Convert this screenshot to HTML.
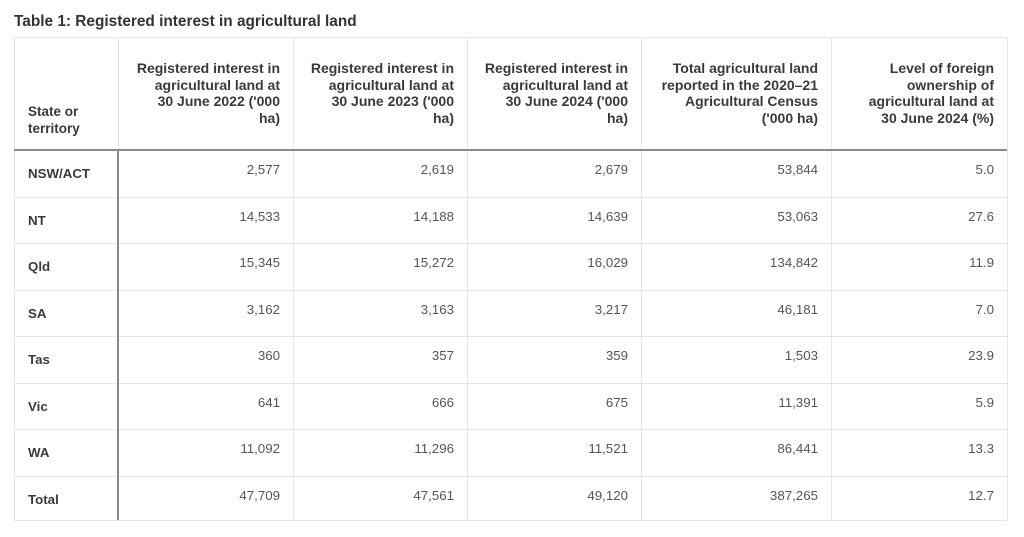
<!DOCTYPE html>
<html><head><meta charset="utf-8"><style>
body{margin:0;width:1024px;height:537px;background:#fff;font-family:"Liberation Sans",sans-serif;position:relative;overflow:hidden}
#title{position:absolute;left:14px;top:13px;font-size:15.4px;font-weight:bold;color:#333}
.cell{position:absolute;box-sizing:border-box;font-size:13.3px;color:#555}
.h{font-weight:bold;color:#3a3a3a;text-align:right;line-height:16.5px;padding-right:13px;font-size:14px}
.num{text-align:right;padding-right:13px}
.lab{font-weight:bold;color:#3a3a3a;padding-left:14px}
.vl{position:absolute;width:1px;background:#e6e6e6}
.hl{position:absolute;height:1px;background:#e6e6e6}
</style></head><body>
<div id="title">Table 1: Registered interest in agricultural land</div>
<div id="t"></div>
<script>
const cols=[14,118,293,467,641,831,1007];
const rowTops=[150,197,243,290,336,383,429,476,520];
const headers=[["Registered interest in","agricultural land at","30 June 2022 ('000","ha)"],["Registered interest in","agricultural land at","30 June 2023 ('000","ha)"],["Registered interest in","agricultural land at","30 June 2024 ('000","ha)"],["Total agricultural land","reported in the 2020–21","Agricultural Census","('000 ha)"],["Level of foreign","ownership of","agricultural land at","30 June 2024 (%)"]];
const states=["NSW/ACT","NT","Qld","SA","Tas","Vic","WA","Total"];
const v2022=["2,577","14,533","15,345","3,162","360","641","11,092","47,709"];
const v2023=["2,619","14,188","15,272","3,163","357","666","11,296","47,561"];
const v2024=["2,679","14,639","16,029","3,217","359","675","11,521","49,120"];
const vTotal=["53,844","53,063","134,842","46,181","1,503","11,391","86,441","387,265"];
const vPct=["5.0","27.6","11.9","7.0","23.9","5.9","13.3","12.7"];
const series=[v2022,v2023,v2024,vTotal,vPct];
const t=document.getElementById('t');
function mk(cls,st,txt){const d=document.createElement('div');d.className=cls;Object.assign(d.style,st);if(txt!=null)d.textContent=txt;t.appendChild(d);return d;}
let e=mk('cell lab',{left:'14px',top:'103px',width:'104px',lineHeight:'17px',fontSize:'13.5px'},null);
e.innerHTML='State or<br>territory';


headers.forEach((h,i)=>{
 const w=cols[i+2]-cols[i+1];
 const d=mk('cell h',{left:cols[i+1]+'px',top:'60px',width:w+'px'},null);
 d.innerHTML=h.join('<br>');
 
 
});
for(let i=0;i<cols.length;i++){
 const l=mk('vl',{left:cols[i]+'px',top:'37px',height:(520-37)+'px'});
 
 
}
[37].concat(rowTops.slice(1)).forEach(y=>{
 const l=mk('hl',{left:'14px',top:y+'px',width:(1007-14)+'px'});
 
 
});
let hb=mk('hl',{left:'14px',top:'149px',width:(1007-14)+'px',height:'2px',background:'#8a8a8a'});


let vb=mk('vl',{left:'117px',top:'150px',width:'2px',height:'370px',background:'#8a8a8a'});


states.forEach((s,r)=>{
 const y=rowTops[r];
 const d=mk('cell lab',{left:'14px',top:(y+16)+'px',width:'104px'},s);
 
 
 series.forEach((arr,c)=>{
  const n=mk('cell num',{left:cols[c+1]+'px',top:(y+12)+'px',width:(cols[c+2]-cols[c+1])+'px'},arr[r]);
  
  
 });
});
</script>
</body></html>
